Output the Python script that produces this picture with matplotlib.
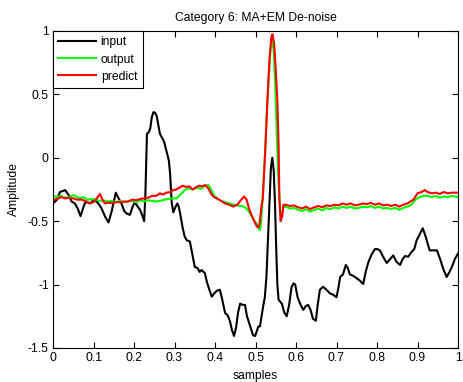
import matplotlib
matplotlib.use("Agg")
import matplotlib.pyplot as plt

plt.rcParams['font.family'] = ['Liberation Sans', 'DejaVu Sans']

title = "Category 6: MA+EM De-noise"
xlabel = "samples"
ylabel = "Amplitude"
series_names = ["input", "output", "predict"]

x_input = [0, 0.01, 0.017, 0.03, 0.038, 0.046, 0.054, 0.061, 0.068, 0.074, 0.079, 0.085, 0.091, 0.098,
           0.104, 0.112, 0.12, 0.128, 0.137, 0.145, 0.155, 0.162, 0.169, 0.176, 0.182, 0.19, 0.196, 0.202,
           0.208, 0.215, 0.221, 0.225, 0.228, 0.232, 0.236, 0.24, 0.244, 0.248, 0.252, 0.256, 0.26, 0.264,
           0.269, 0.274, 0.278, 0.282, 0.286, 0.289, 0.293, 0.297, 0.302, 0.307, 0.31, 0.314, 0.32, 0.325,
           0.33, 0.338, 0.344, 0.35, 0.357, 0.362, 0.367, 0.375, 0.38, 0.386, 0.392, 0.398, 0.404, 0.412,
           0.418, 0.425, 0.431, 0.437, 0.442, 0.447, 0.452, 0.457, 0.462, 0.468, 0.474, 0.479, 0.484, 0.489,
           0.494, 0.499, 0.503, 0.507, 0.511, 0.515, 0.519, 0.523, 0.527, 0.531, 0.535, 0.538, 0.5415, 0.545,
           0.548, 0.551, 0.554, 0.557, 0.565, 0.571, 0.577, 0.583, 0.589, 0.594, 0.598, 0.604, 0.61, 0.618,
           0.624, 0.63, 0.636, 0.642, 0.649, 0.654, 0.659, 0.667, 0.675, 0.684, 0.692, 0.7, 0.705, 0.709,
           0.716, 0.723, 0.728, 0.733, 0.741, 0.75, 0.758, 0.766, 0.772, 0.779, 0.787, 0.795, 0.801, 0.807,
           0.815, 0.824, 0.832, 0.84, 0.848, 0.857, 0.863, 0.869, 0.877, 0.886, 0.892, 0.898, 0.906, 0.913,
           0.92, 0.93, 0.938, 0.948, 0.956, 0.964, 0.972, 0.979, 0.985, 0.992, 1.0]
y_input = [-0.36, -0.33, -0.27, -0.255, -0.29, -0.345, -0.36, -0.40, -0.46, -0.40, -0.355, -0.35, -0.36, -0.34,
           -0.335, -0.36, -0.40, -0.46, -0.51, -0.42, -0.275, -0.32, -0.36, -0.42, -0.44, -0.45, -0.39, -0.35,
           -0.38, -0.41, -0.46, -0.50, -0.30, 0.19, 0.20, 0.23, 0.32, 0.36, 0.355, 0.33, 0.26, 0.19,
           0.16, 0.13, 0.08, 0.03, -0.02, -0.12, -0.35, -0.43, -0.39, -0.36, -0.38, -0.44, -0.55, -0.62,
           -0.65, -0.66, -0.76, -0.86, -0.87, -0.90, -0.885, -0.91, -0.98, -1.04, -1.095, -1.07, -1.05, -1.04,
           -1.12, -1.225, -1.24, -1.29, -1.36, -1.405, -1.34, -1.22, -1.15, -1.16, -1.16, -1.25, -1.30, -1.35,
           -1.40, -1.405, -1.37, -1.33, -1.33, -1.25, -1.17, -1.10, -0.94, -0.62, -0.30, -0.08, 0.0, -0.10,
           -0.35, -0.70, -1.0, -1.12, -1.15, -1.22, -1.25, -1.16, -1.02, -0.99, -1.0, -1.10, -1.15, -1.20,
           -1.17, -1.16, -1.20, -1.27, -1.285, -1.15, -1.04, -1.017, -1.04, -1.07, -1.08, -1.10, -1.02, -0.94,
           -0.92, -0.845, -0.87, -0.92, -0.93, -0.95, -0.97, -0.995, -0.90, -0.82, -0.76, -0.72, -0.72, -0.73,
           -0.78, -0.83, -0.80, -0.77, -0.82, -0.845, -0.80, -0.775, -0.78, -0.74, -0.72, -0.65, -0.60, -0.556,
           -0.62, -0.73, -0.73, -0.73, -0.80, -0.88, -0.94, -0.90, -0.86, -0.80, -0.755]

x_output = [0, 0.01, 0.02, 0.03, 0.04, 0.05, 0.055, 0.065, 0.075, 0.085, 0.095, 0.105, 0.115, 0.125, 0.135,
            0.145, 0.155, 0.165, 0.175, 0.185, 0.195, 0.205, 0.215, 0.225, 0.235, 0.245, 0.255, 0.265, 0.275,
            0.285, 0.295, 0.305, 0.315, 0.325, 0.335, 0.345, 0.355, 0.365, 0.375, 0.384, 0.39, 0.398, 0.405,
            0.412, 0.42, 0.43, 0.437, 0.445, 0.455, 0.465, 0.47, 0.478, 0.485, 0.492, 0.498, 0.503, 0.508,
            0.511, 0.514, 0.518, 0.523, 0.528, 0.533, 0.537, 0.541, 0.545, 0.549, 0.553, 0.557, 0.561, 0.565,
            0.569, 0.575, 0.585, 0.595, 0.605, 0.615, 0.625, 0.635, 0.645, 0.655, 0.665, 0.675, 0.685, 0.695,
            0.705, 0.715, 0.725, 0.735, 0.745, 0.755, 0.765, 0.775, 0.785, 0.795, 0.805, 0.815, 0.825, 0.835,
            0.845, 0.855, 0.865, 0.875, 0.885, 0.895, 0.905, 0.915, 0.925, 0.935, 0.945, 0.955, 0.965, 0.975,
            0.985, 1.0]
y_output = [-0.30, -0.31, -0.30, -0.315, -0.31, -0.295, -0.30, -0.32, -0.31, -0.33, -0.325, -0.33, -0.34, -0.335, -0.345,
            -0.34, -0.35, -0.34, -0.35, -0.345, -0.34, -0.35, -0.335, -0.345, -0.335, -0.34, -0.345, -0.34, -0.33,
            -0.325, -0.32, -0.32, -0.29, -0.255, -0.24, -0.25, -0.235, -0.245, -0.22, -0.215, -0.25, -0.30, -0.32,
            -0.335, -0.345, -0.355, -0.36, -0.37, -0.375, -0.38, -0.385, -0.40, -0.43, -0.47, -0.50, -0.52, -0.56,
            -0.57, -0.50, -0.30, 0.0, 0.35, 0.65, 0.85, 0.93, 0.85, 0.55, 0.15, -0.20, -0.42, -0.45,
            -0.39, -0.385, -0.40, -0.395, -0.41, -0.42, -0.405, -0.425, -0.41, -0.40, -0.415, -0.395, -0.405, -0.39,
            -0.40, -0.385, -0.395, -0.385, -0.40, -0.395, -0.385, -0.39, -0.38, -0.395, -0.385, -0.40, -0.395, -0.405,
            -0.395, -0.41, -0.395, -0.385, -0.37, -0.33, -0.31, -0.30, -0.30, -0.31, -0.30, -0.315, -0.305, -0.31,
            -0.30, -0.31]

x_predict = [0, 0.01, 0.02, 0.03, 0.04, 0.05, 0.06, 0.07, 0.08, 0.09, 0.1, 0.108, 0.116, 0.122, 0.128,
             0.135, 0.145, 0.155, 0.165, 0.175, 0.185, 0.195, 0.205, 0.215, 0.225, 0.235, 0.245, 0.255, 0.264,
             0.272, 0.28, 0.29, 0.297, 0.305, 0.312, 0.32, 0.328, 0.337, 0.345, 0.352, 0.36, 0.368, 0.375,
             0.382, 0.39, 0.396, 0.405, 0.415, 0.425, 0.435, 0.445, 0.455, 0.465, 0.472, 0.478, 0.484, 0.49,
             0.497, 0.503, 0.507, 0.51, 0.514, 0.518, 0.524, 0.53, 0.535, 0.539, 0.542, 0.546, 0.55, 0.554,
             0.557, 0.559, 0.562, 0.566, 0.569, 0.575, 0.585, 0.595, 0.605, 0.615, 0.625, 0.635, 0.645, 0.655,
             0.665, 0.675, 0.685, 0.695, 0.705, 0.715, 0.725, 0.735, 0.745, 0.755, 0.765, 0.775, 0.785, 0.795,
             0.805, 0.815, 0.825, 0.835, 0.845, 0.855, 0.865, 0.875, 0.88, 0.89, 0.9, 0.91, 0.918, 0.925,
             0.935, 0.945, 0.955, 0.965, 0.975, 0.985, 1.0]
y_predict = [-0.33, -0.325, -0.31, -0.32, -0.315, -0.32, -0.33, -0.33, -0.34, -0.36, -0.35, -0.32, -0.285, -0.33, -0.36,
             -0.355, -0.355, -0.35, -0.35, -0.345, -0.345, -0.33, -0.335, -0.325, -0.32, -0.315, -0.30, -0.30, -0.28,
             -0.29, -0.275, -0.27, -0.254, -0.25, -0.235, -0.22, -0.23, -0.225, -0.25, -0.235, -0.22, -0.225, -0.215,
             -0.235, -0.28, -0.307, -0.32, -0.34, -0.36, -0.37, -0.385, -0.37, -0.33, -0.305, -0.33, -0.40, -0.45,
             -0.50, -0.54, -0.55, -0.52, -0.40, -0.32, 0.05, 0.50, 0.80, 0.95, 0.975, 0.90, 0.70, 0.45,
             0.10, -0.33, -0.50, -0.46, -0.37, -0.37, -0.38, -0.375, -0.39, -0.40, -0.385, -0.405, -0.39, -0.38,
             -0.39, -0.375, -0.38, -0.37, -0.375, -0.36, -0.37, -0.36, -0.375, -0.37, -0.36, -0.365, -0.355, -0.37,
             -0.36, -0.375, -0.37, -0.38, -0.37, -0.385, -0.37, -0.36, -0.35, -0.33, -0.28, -0.27, -0.254, -0.27,
             -0.28, -0.275, -0.285, -0.27, -0.28, -0.275, -0.275]

x_ticks = [0, 0.1, 0.2, 0.3, 0.4, 0.5, 0.6, 0.7, 0.8, 0.9, 1]
x_ticklabels = ["0", "0.1", "0.2", "0.3", "0.4", "0.5", "0.6", "0.7", "0.8", "0.9", "1"]
y_ticks = [-1.5, -1, -0.5, 0, 0.5, 1]
y_ticklabels = ["-1.5", "-1", "-0.5", "0", "0.5", "1"]

fs = 8.7
fig = plt.figure(figsize=(4.63, 3.82), dpi=100)
ax = fig.add_axes([53/463, 1-348/382, (458-53)/463, (348-31)/382])

ax.plot(x_input, y_input, color='black', lw=1.5, label=series_names[0])
ax.plot(x_output, y_output, color=(0, 1, 0), lw=1.5, label=series_names[1])
ax.plot(x_predict, y_predict, color=(1, 0, 0), lw=1.5, label=series_names[2])

ax.set_xlim(0, 1)
ax.set_ylim(-1.5, 1)
ax.set_xticks(x_ticks)
ax.set_xticklabels(x_ticklabels)
ax.set_yticks(y_ticks)
ax.set_yticklabels(y_ticklabels)
ax.tick_params(direction='in', top=True, right=True, length=4, width=0.8, labelsize=fs, pad=3)
for s in ax.spines.values():
    s.set_linewidth(0.8)

ax.set_title(title, fontsize=fs, pad=7)
ax.set_xlabel(xlabel, fontsize=fs, labelpad=4)
ax.set_ylabel(ylabel, fontsize=fs, labelpad=6)

leg = ax.legend(loc='upper left', fontsize=fs, frameon=True, fancybox=False, borderaxespad=0,
                handlelength=3.1, borderpad=0.45, labelspacing=0.42, handletextpad=0.4)
leg.get_frame().set_edgecolor('black')
leg.get_frame().set_linewidth(0.8)
leg.get_frame().set_alpha(1)

fig.savefig("out.png", dpi=100)
